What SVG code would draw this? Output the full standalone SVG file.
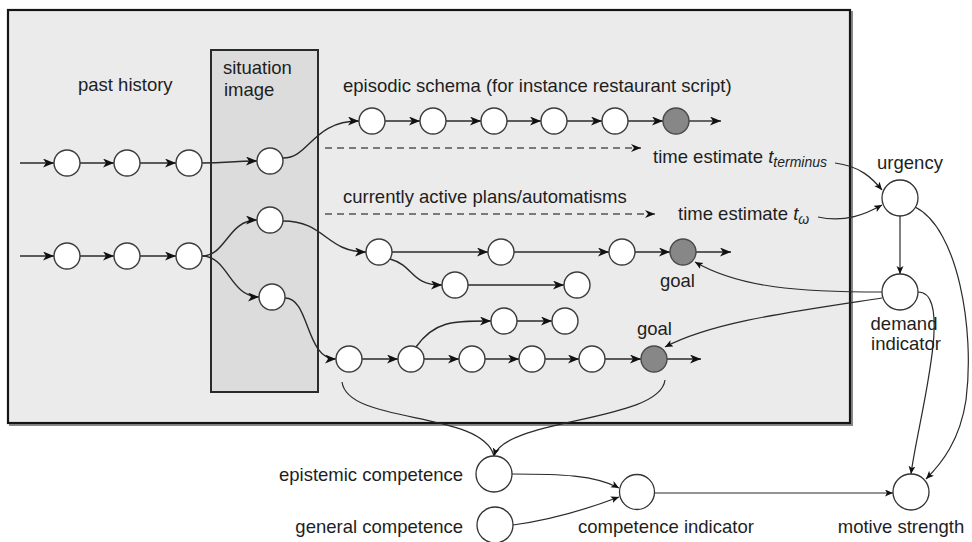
<svg xmlns="http://www.w3.org/2000/svg" width="972" height="542" viewBox="0 0 972 542">
  <style>
    text { font-family: "Liberation Sans", Arial, sans-serif; font-size: 18.5px; fill: #1e1e1e; }
    .node { fill: #ffffff; stroke: #3c3c3c; stroke-width: 1.4; }
    .goal { fill: #878787; stroke: #4a4a4a; stroke-width: 1.4; }
    .big { fill: #ffffff; stroke: #333333; stroke-width: 1.3; }
    .chain { fill: none; stroke: #2a2a2a; stroke-width: 1.4; marker-end: url(#arrow); }
    .dash { fill: none; stroke: #555555; stroke-width: 1.3; stroke-dasharray: 7 5; marker-end: url(#arrowDash); }
    .thin { fill: none; stroke: #2a2a2a; stroke-width: 1.2; marker-end: url(#arrowSmall); }
    .plain { fill: none; stroke: #2a2a2a; stroke-width: 1.2; }
    .sub { font-style: italic; font-size: 14px; }
  </style>
  <defs>
    <marker id="arrow" markerUnits="userSpaceOnUse" markerWidth="12" markerHeight="10" refX="11" refY="4.5" orient="auto">
      <path d="M0,0 L11,4.5 L0,9 L3,4.5 z" fill="#111111"/>
    </marker>
    <marker id="arrowDash" markerUnits="userSpaceOnUse" markerWidth="12" markerHeight="10" refX="10" refY="4" orient="auto">
      <path d="M0,0 L10,4 L0,8 L3,4 z" fill="#111111"/>
    </marker>
    <marker id="arrowSmall" markerUnits="userSpaceOnUse" markerWidth="10" markerHeight="8" refX="8" refY="3.5" orient="auto">
      <path d="M0,0 L8,3.5 L0,7 L2,3.5 z" fill="#111111"/>
    </marker>
  </defs>

  <!-- memory region -->
  <g id="memory-frame">
    <rect x="10" y="12" width="842" height="413" fill="none" stroke="#8a8a8a" stroke-width="2"/>
    <rect x="8" y="10" width="842" height="413" fill="#ebebeb" stroke="#151515" stroke-width="2.2"/>
  </g>
  <g id="situation-frame">
    <rect x="211" y="50" width="107" height="342" fill="#dcdcdc" stroke="#2a2a2a" stroke-width="2"/>
  </g>

  <!-- connectors -->
  <g id="connectors">
    <!-- past history, row 1 -->
    <path class="chain" d="M20,163 L54,163"/>
    <path class="chain" d="M80,163 L114,163"/>
    <path class="chain" d="M140,163 L176,163"/>
    <path class="chain" d="M202,163 C228,163 232,161 257,161"/>
    <path class="chain" d="M283,158 C310,158 312,121 359,121"/>
    <!-- episodic schema -->
    <path class="chain" d="M385,121 L420,121"/>
    <path class="chain" d="M446,121 L481,121"/>
    <path class="chain" d="M507,121 L541,121"/>
    <path class="chain" d="M567,121 L602,121"/>
    <path class="chain" d="M628,121 L663,121"/>
    <path class="chain" d="M689,121 L721,121"/>
    <!-- time estimates -->
    <path class="dash" d="M325,148 L641,148"/>
    <path class="dash" d="M325,214 L655,214"/>
    <!-- past history, row 2 -->
    <path class="chain" d="M20,256 L54,256"/>
    <path class="chain" d="M80,256 L114,256"/>
    <path class="chain" d="M140,256 L176,256"/>
    <path class="chain" d="M202,256 C226,256 228,220 257,220"/>
    <path class="chain" d="M202,256 C228,256 230,297 259,297"/>
    <!-- active plan A -->
    <path class="chain" d="M283,221 C325,221 326,252 366,252"/>
    <path class="chain" d="M392,252 L488,252"/>
    <path class="chain" d="M514,252 L609,252"/>
    <path class="chain" d="M635,252 L670,252"/>
    <path class="chain" d="M696,252 L731,252"/>
    <path class="chain" d="M390,259 C415,266 410,285 442,285"/>
    <path class="chain" d="M468,285 L564,285"/>
    <!-- active plan B -->
    <path class="chain" d="M285,298 C310,298 305,359 336,359"/>
    <path class="chain" d="M362,359 L398,359"/>
    <path class="chain" d="M424,359 L459,359"/>
    <path class="chain" d="M485,359 L519,359"/>
    <path class="chain" d="M545,359 L579,359"/>
    <path class="chain" d="M605,359 L641,359"/>
    <path class="chain" d="M667,359 L701,359"/>
    <path class="chain" d="M416,347 C435,320 455,321 491,321"/>
    <path class="chain" d="M517,321 L552,321"/>
    <!-- urgency and demand -->
    <path class="thin" d="M835,163 C860,166 872,178 882,190"/>
    <path class="thin" d="M818,217 C845,223 866,214 882,205"/>
    <path class="thin" d="M900,216 L900,274"/>
    <path class="thin" d="M882,292 C800,292 740,288 695,262"/>
    <path class="thin" d="M882,298 C790,312 712,322 665,347"/>
    <path class="thin" d="M918,292 C955,292 918,420 911,474"/>
    <path class="thin" d="M915,207 C958,228 975,330 966,400 C960,440 942,463 926,479"/>
    <!-- competence -->
    <path class="plain" d="M342,382 C348,425 482,410 494,456"/>
    <path class="thin" d="M665,380 C660,422 505,418 494,456"/>
    <path class="thin" d="M512,474 C560,474 595,475 619,488"/>
    <path class="thin" d="M513,525 C550,520 590,508 619,497"/>
    <path class="thin" d="M655,493 L893,493"/>
  </g>

  <!-- labels of regions -->
  <g id="labels">
    <text x="78" y="91">past history</text>
    <text x="223" y="74">situation</text>
    <text x="224" y="96">image</text>
    <text x="343" y="92">episodic schema (for instance restaurant script)</text>
    <text x="343" y="203">currently active plans/automatisms</text>
    <text x="653" y="163">time estimate <tspan font-style="italic">t</tspan><tspan class="sub" dy="4">terminus</tspan></text>
    <text x="678" y="220">time estimate <tspan font-style="italic">t</tspan><tspan class="sub" dy="4">ω</tspan></text>
  </g>

  <!-- past history nodes -->
  <g id="past-1"><circle class="node" cx="67" cy="163" r="13"/></g>
  <g id="past-2"><circle class="node" cx="127" cy="163" r="13"/></g>
  <g id="past-3"><circle class="node" cx="189" cy="163" r="13"/></g>
  <g id="past-4"><circle class="node" cx="67" cy="256" r="13"/></g>
  <g id="past-5"><circle class="node" cx="127" cy="256" r="13"/></g>
  <g id="past-6"><circle class="node" cx="189" cy="256" r="13"/></g>

  <!-- situation image nodes -->
  <g id="situation-1"><circle class="node" cx="270" cy="161" r="13"/></g>
  <g id="situation-2"><circle class="node" cx="270" cy="220" r="13"/></g>
  <g id="situation-3"><circle class="node" cx="272" cy="297" r="13"/></g>

  <!-- episodic schema nodes -->
  <g id="episode-1"><circle class="node" cx="372" cy="121" r="13"/></g>
  <g id="episode-2"><circle class="node" cx="433" cy="121" r="13"/></g>
  <g id="episode-3"><circle class="node" cx="494" cy="121" r="13"/></g>
  <g id="episode-4"><circle class="node" cx="554" cy="121" r="13"/></g>
  <g id="episode-5"><circle class="node" cx="615" cy="121" r="13"/></g>
  <g id="episode-end"><circle class="goal" cx="676" cy="121" r="13"/></g>

  <!-- plan A nodes -->
  <g id="planA-1"><circle class="node" cx="379" cy="252" r="13"/></g>
  <g id="planA-2"><circle class="node" cx="501" cy="252" r="13"/></g>
  <g id="planA-3"><circle class="node" cx="622" cy="252" r="13"/></g>
  <g id="planA-goal"><circle class="goal" cx="683" cy="252" r="13"/><text x="660" y="287">goal</text></g>
  <g id="planA-4"><circle class="node" cx="455" cy="285" r="13"/></g>
  <g id="planA-5"><circle class="node" cx="577" cy="285" r="13"/></g>

  <!-- plan B nodes -->
  <g id="planB-1"><circle class="node" cx="349" cy="359" r="13"/></g>
  <g id="planB-2"><circle class="node" cx="411" cy="359" r="13"/></g>
  <g id="planB-3"><circle class="node" cx="472" cy="359" r="13"/></g>
  <g id="planB-4"><circle class="node" cx="532" cy="359" r="13"/></g>
  <g id="planB-5"><circle class="node" cx="592" cy="359" r="13"/></g>
  <g id="planB-goal"><circle class="goal" cx="654" cy="359" r="13"/><text x="637" y="335">goal</text></g>
  <g id="planB-6"><circle class="node" cx="504" cy="321" r="13"/></g>
  <g id="planB-7"><circle class="node" cx="565" cy="321" r="13"/></g>

  <!-- motivational nodes -->
  <g id="urgency"><circle class="big" cx="900" cy="198" r="18"/><text x="910" y="169" text-anchor="middle">urgency</text></g>
  <g id="demand-indicator"><circle class="big" cx="900" cy="292" r="18"/><text x="904" y="330" text-anchor="middle">demand</text><text x="906" y="350" text-anchor="middle">indicator</text></g>
  <g id="epistemic-competence"><circle class="big" cx="494" cy="474" r="18"/><text x="463" y="481" text-anchor="end">epistemic competence</text></g>
  <g id="general-competence"><circle class="big" cx="495" cy="525" r="18"/><text x="463" y="533" text-anchor="end">general competence</text></g>
  <g id="competence-indicator"><circle class="big" cx="637" cy="492" r="17.5"/><text x="578" y="533">competence indicator</text></g>
  <g id="motive-strength"><circle class="big" cx="911" cy="492" r="18"/><text x="901" y="533" text-anchor="middle" font-size="17">motive strength</text></g>
</svg>
